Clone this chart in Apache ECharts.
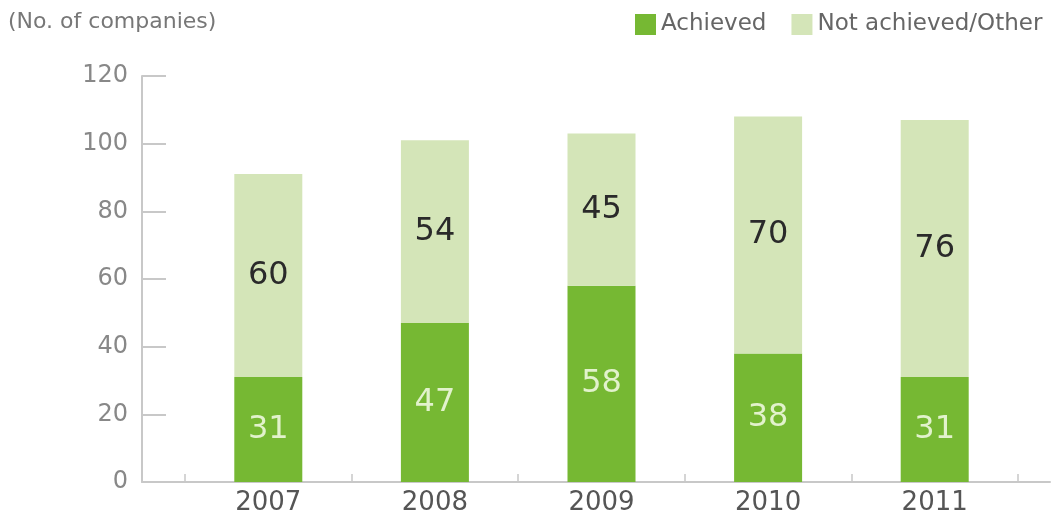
<!DOCTYPE html>
<html>
<head>
<meta charset="utf-8">
<script src="https://cdn.jsdelivr.net/npm/echarts@6/dist/echarts.min.js"></script>
<style>
html,body{margin:0;padding:0;background:#fff;}
#c{width:1059px;height:521px;}
</style>
</head>
<body>
<div id="c"></div>
<script>
var years = ['2007', '2008', '2009', '2010', '2011'];
var achieved = [31, 47, 58, 38, 31];
var notAchieved = [60, 54, 45, 70, 76];
var yTicks = [0, 20, 40, 60, 80, 100, 120];

var FONT = '"DejaVu Sans", sans-serif';
var chart = echarts.init(document.getElementById('c'), null, {renderer: 'canvas'});
chart.setOption({
  backgroundColor: '#ffffff',
  animation: false,
  textStyle: {fontFamily: FONT},
  title: {
    text: '(No. of companies)',
    left: 3, top: 6,
    textStyle: {fontSize: 22, fontWeight: 'normal', color: '#777', fontFamily: FONT}
  },
  legend: {
    left: 630, top: 8, width: 440,
    itemWidth: 21, itemHeight: 21, itemGap: 25,
    icon: 'rect',
    textStyle: {fontSize: 23, color: '#666', fontFamily: FONT},
    data: ['Achieved', 'Not achieved/Other']
  },
  grid: [
    {left: 185, right: 41, top: 76, bottom: 39},
    {left: 142, right: 9, top: 76, bottom: 39}
  ],
  xAxis: [
    {
      type: 'category', gridIndex: 0, data: years,
      axisLine: {show: false},
      axisTick: {show: true, inside: true, length: 8, lineStyle: {color: '#c8c8c8', width: 1.5}},
      axisLabel: {fontSize: 26, color: '#555', margin: 8, fontFamily: FONT}
    },
    {
      type: 'value', gridIndex: 1, min: 0, max: 1,
      axisLine: {show: true, lineStyle: {color: '#c8c8c8', width: 2}},
      axisTick: {show: false}, axisLabel: {show: false}, splitLine: {show: false}
    }
  ],
  yAxis: [
    {
      type: 'value', gridIndex: 0, min: yTicks[0], max: yTicks[yTicks.length - 1], interval: 20,
      offset: 43,
      axisLine: {show: true, lineStyle: {color: '#c8c8c8', width: 2}},
      axisTick: {show: true, inside: true, length: 24, lineStyle: {color: '#c8c8c8', width: 2}},
      axisLabel: {fontSize: 24, color: '#888', margin: 14, fontFamily: FONT},
      splitLine: {show: false}
    },
    {
      type: 'value', gridIndex: 1, min: 0, max: 1, show: false
    }
  ],
  series: [
    {
      name: 'Achieved', type: 'bar', stack: 'total', barWidth: 68,
      xAxisIndex: 0, yAxisIndex: 0,
      data: achieved,
      itemStyle: {color: '#76b833'},
      label: {show: true, position: 'inside', fontSize: 32, color: '#e2f2cc', fontFamily: FONT}
    },
    {
      name: 'Not achieved/Other', type: 'bar', stack: 'total', barWidth: 68,
      xAxisIndex: 0, yAxisIndex: 0,
      data: notAchieved,
      itemStyle: {color: '#d4e5b8'},
      label: {show: true, position: 'inside', fontSize: 32, color: '#2a2a2a', fontFamily: FONT}
    }
  ]
});
</script>
</body>
</html>
